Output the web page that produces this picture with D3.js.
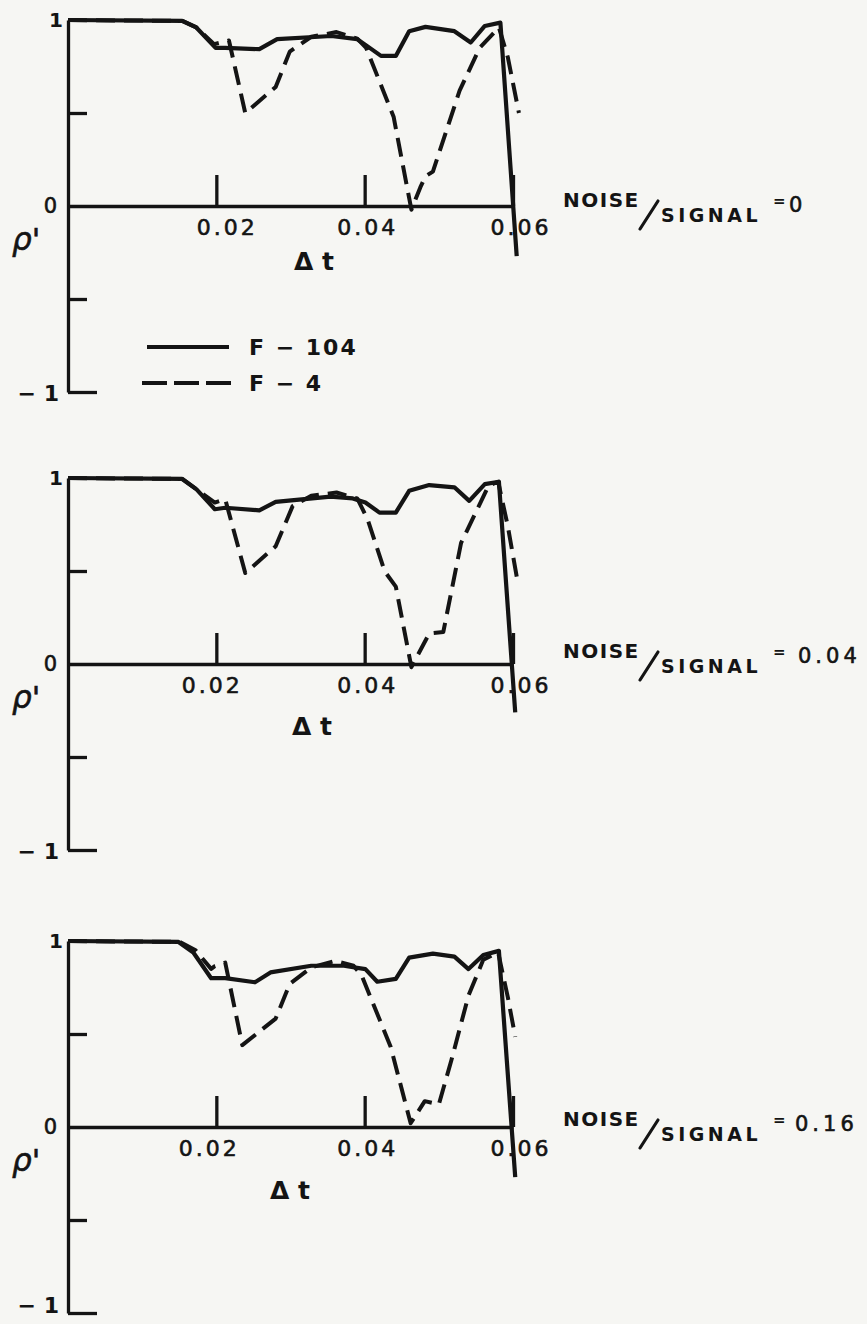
<!DOCTYPE html>
<html>
<head>
<meta charset="utf-8">
<script src="https://cdn.jsdelivr.net/npm/d3@7"></script>
<style>
  body { margin: 0; background: #f6f6f3; }
  svg { display: block; }
  text { font-family: "DejaVu Sans", sans-serif; fill: #141414; }
  text.thin { stroke: #141414; stroke-width: 0.6px; }
</style>
</head>
<body>
<div id="chart"></div>
<script>
// noise/signal ratios, one panel each
var noiseLevels = ["0", "0.04", "0.16"];
var xTicks = [0.02, 0.04, 0.06];
var xTickLabels = ["0.02", "0.04", "0.06"];

// [delta t, rho']
var f104Noise0 = [[0, 1.0], [0.0154, 0.995], [0.0173, 0.96], [0.0199, 0.85], [0.0212, 0.85], [0.0258, 0.843], [0.0282, 0.897],
    [0.0355, 0.914], [0.039, 0.897], [0.0403, 0.861], [0.0422, 0.807], [0.0442, 0.807], [0.046, 0.94], [0.0482, 0.963],
    [0.0521, 0.94], [0.0543, 0.879], [0.0562, 0.968], [0.0583, 0.986], [0.0605, -0.27]];
var f4Noise0 = [[0, 1.0], [0.0154, 0.995], [0.0173, 0.96], [0.0197, 0.87], [0.0217, 0.89], [0.0239, 0.50], [0.028, 0.64],
    [0.0299, 0.83], [0.0328, 0.91], [0.0362, 0.935], [0.039, 0.90], [0.0402, 0.85], [0.0439, 0.48], [0.0463, -0.02],
    [0.0475, 0.10], [0.0482, 0.16], [0.0492, 0.185], [0.0528, 0.62], [0.0555, 0.85], [0.0581, 0.96], [0.0593, 0.80], [0.0608, 0.50]];

var f104Noise04 = [[0, 1.0], [0.0154, 0.995], [0.0173, 0.94], [0.0198, 0.832], [0.0212, 0.84], [0.0258, 0.826], [0.028, 0.872],
    [0.0354, 0.90], [0.0384, 0.89], [0.0401, 0.868], [0.042, 0.814], [0.0442, 0.814], [0.046, 0.931], [0.0487, 0.962],
    [0.0521, 0.95], [0.0541, 0.877], [0.0562, 0.967], [0.0581, 0.98], [0.0603, -0.26]];
var f4Noise04 = [[0, 1.0], [0.0154, 0.995], [0.0173, 0.94], [0.0198, 0.868], [0.0212, 0.886], [0.0239, 0.489], [0.028, 0.633],
    [0.0303, 0.85], [0.0328, 0.904], [0.0362, 0.922], [0.039, 0.89], [0.0404, 0.778], [0.0427, 0.498], [0.0442, 0.416],
    [0.0463, -0.017], [0.0487, 0.164], [0.0506, 0.172], [0.053, 0.651], [0.0567, 0.958], [0.058, 0.98], [0.0593, 0.741], [0.0605, 0.47]];

var f104Noise16 = [[0, 1.0], [0.0149, 0.995], [0.0169, 0.938], [0.0193, 0.80], [0.0212, 0.80], [0.0252, 0.778], [0.0273, 0.831],
    [0.0328, 0.867], [0.0372, 0.867], [0.0401, 0.849], [0.0417, 0.781], [0.0442, 0.796], [0.046, 0.911], [0.0492, 0.932],
    [0.0521, 0.916], [0.054, 0.849], [0.056, 0.925], [0.0581, 0.947], [0.0603, -0.27]];
var f4Noise16 = [[0, 1.0], [0.0151, 0.995], [0.0172, 0.95], [0.0193, 0.85], [0.0198, 0.865], [0.0212, 0.884], [0.0235, 0.44],
    [0.028, 0.583], [0.0299, 0.769], [0.0328, 0.858], [0.036, 0.893], [0.0385, 0.867], [0.0396, 0.814], [0.0435, 0.432],
    [0.0462, 0.02], [0.0481, 0.139], [0.05, 0.121], [0.0517, 0.36], [0.054, 0.707], [0.056, 0.90], [0.058, 0.938],
    [0.0593, 0.698], [0.0603, 0.485]];

var f104Series = [f104Noise0, f104Noise04, f104Noise16];
var f4Series = [f4Noise0, f4Noise04, f4Noise16];
var legendNames = ["F \u2212 104", "F \u2212 4"];

var width = 867, height = 1324;
var ink = "#141414";
var panelTop = [20, 478, 941];
var panelH = 372;
// hand lettering is not quite aligned from panel to panel
var lab02dx = [11, -4, -7];
var deltaX = [314, 312, 290];
var deltaDy = [64, 71, 72];
var noiseDy = [1, -6, -1];
var valueX = [789, 798, 795];
var minusOneDy = [9, 9, 0];

var svg = d3.select("#chart").append("svg")
    .attr("width", width)
    .attr("height", height);

var x = d3.scaleLinear().domain([0, 0.06]).range([68, 513]);

var line = d3.line()
    .x(function (d) { return x(d[0]); });

noiseLevels.forEach(function (noise, p) {
    var y = d3.scaleLinear().domain([-1, 1]).range([panelTop[p] + panelH, panelTop[p]]);
    var y0 = y(0);
    var g = svg.append("g");

    // y axis, ticks pointing right
    var yAxis = g.append("g")
        .attr("transform", "translate(" + x(0) + ",0)")
        .call(d3.axisRight(y).tickValues([0.5, -0.5, -1]).tickSize(19).tickSizeOuter(0).tickFormat(""));
    yAxis.selectAll(".tick").filter(function (d) { return d == -1; })
        .select("line").attr("x2", 29);

    // x axis along rho' = 0, ticks pointing up
    g.append("g")
        .attr("transform", "translate(0," + y0 + ")")
        .call(d3.axisBottom(x).tickValues(xTicks).tickSize(-31).tickSizeOuter(0).tickFormat(""));

    g.selectAll(".domain, .tick line")
        .attr("stroke", ink)
        .attr("stroke-width", 3.3);

    // y labels
    g.append("text").attr("x", 63).attr("y", y(1) + 7).attr("text-anchor", "end")
        .style("font-size", "20px").style("font-weight", "bold").text("1");
    g.append("text").attr("class", "thin").attr("x", 57).attr("y", y0 + 7)
        .attr("text-anchor", "end")
        .style("font-size", "21px").text("0");
    g.append("text").attr("x", 59).attr("y", y(-1) + minusOneDy[p]).attr("text-anchor", "end")
        .style("font-size", "22px").style("font-weight", "bold").text("\u2212 1");
    g.append("text").attr("class", "thin").attr("x", 12).attr("y", y0 + 44)
        .style("font-size", "31px").style("font-style", "italic").text("\u03c1'");

    // x labels
    g.selectAll("text.xlab").data(xTicks).enter().append("text")
        .attr("class", "xlab thin")
        .attr("x", function (d, i) { return x(d) + (i == 0 ? lab02dx[p] : i == 1 ? 3 : 8); })
        .attr("y", y0 + 29)
        .attr("text-anchor", "middle")
        .style("font-size", "22px")
        .style("letter-spacing", "3px")
        .text(function (d, i) { return xTickLabels[i]; });
    g.append("text").attr("x", deltaX[p]).attr("y", y0 + deltaDy[p])
        .attr("text-anchor", "middle")
        .style("font-size", "25px").style("font-weight", "bold")
        .text("\u0394 t");

    // curves
    line.y(function (d) { return y(d[1]); });
    g.append("path")
        .attr("d", line(f4Series[p]))
        .attr("fill", "none")
        .attr("stroke", ink)
        .attr("stroke-width", 4)
        .attr("stroke-dasharray", "19 9")
        .attr("stroke-linejoin", "round");
    g.append("path")
        .attr("d", line(f104Series[p]))
        .attr("fill", "none")
        .attr("stroke", ink)
        .attr("stroke-width", 4.2)
        .attr("stroke-linejoin", "round");

    // NOISE/SIGNAL = n
    var ny = y0 + noiseDy[p];
    g.append("text").attr("x", 563).attr("y", ny)
        .style("font-size", "20px").style("font-weight", "bold").style("letter-spacing", "1.5px")
        .text("NOISE");
    g.append("line")
        .attr("x1", 640).attr("y1", ny + 22).attr("x2", 658).attr("y2", ny - 6)
        .attr("stroke", ink).attr("stroke-width", 3.2).attr("stroke-linecap", "round");
    g.append("text").attr("x", 661).attr("y", ny + 15)
        .style("font-size", "19px").style("font-weight", "bold").style("letter-spacing", "3.5px")
        .text("SIGNAL");
    g.append("text").attr("x", 773).attr("y", ny - 1)
        .style("font-size", "15px").style("font-weight", "bold")
        .text("=");
    g.append("text").attr("class", "thin").attr("x", valueX[p]).attr("y", ny + 5)
        .style("font-size", "21px").style("letter-spacing", "4px")
        .text(noise);
});

// legend, first panel only
var legend = svg.append("g");
var legendY = [347, 383];
legend.selectAll("line").data(legendNames).enter().append("line")
    .attr("x1", function (d, i) { return i == 0 ? 147 : 142; })
    .attr("x2", function (d, i) { return i == 0 ? 229 : 232; })
    .attr("y1", function (d, i) { return legendY[i]; })
    .attr("y2", function (d, i) { return legendY[i]; })
    .attr("stroke", ink)
    .attr("stroke-width", 4.2)
    .attr("stroke-dasharray", function (d, i) { return i == 0 ? null : "25 7"; });
legend.selectAll("text").data(legendNames).enter().append("text")
    .attr("x", 249)
    .attr("y", function (d, i) { return legendY[i] + 8; })
    .style("font-size", "22px").style("font-weight", "bold").style("letter-spacing", "2px")
    .text(function (d) { return d; });
</script>
</body>
</html>
